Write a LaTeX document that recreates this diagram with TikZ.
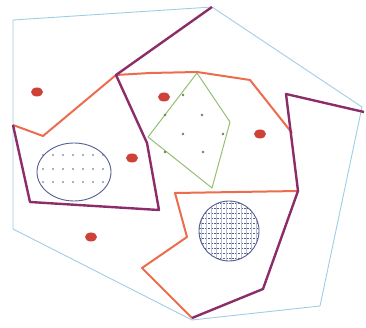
\documentclass[tikz,border=0pt]{standalone}
\usetikzlibrary{calc}
\definecolor{hullblue}{RGB}{160,205,228}
\definecolor{plum}{RGB}{140,45,105}
\definecolor{tangerine}{RGB}{236,108,78}
\definecolor{sage}{RGB}{150,190,115}
\definecolor{blobred}{RGB}{205,65,55}
\definecolor{ink}{RGB}{85,95,145}
\begin{document}
\begin{tikzpicture}[x=1pt, y=-1pt,
  hull/.style={draw=hullblue, line width=0.9pt, line join=round},
  wall/.style={draw=plum, line width=2.4pt, line join=round},
  edge/.style={draw=tangerine, line width=2pt, line join=round},
  zone/.style={draw=sage, line width=1pt, line join=round},
  blob/.style={fill=blobred},
  dot/.style={fill=ink, draw=none},
]
\useasboundingbox (0,0) rectangle (366,328);

% === outer hull ===
\coordinate (tl) at (13,20);
\coordinate (tp) at (212,7);
\coordinate (tr) at (362,107);
\coordinate (br) at (320,306);
\coordinate (bm) at (192,320);
\coordinate (bl) at (13,229);
\draw[hull] (tl) -- (tp) -- (tr) -- (br) -- (bm) -- (bl) -- cycle;

% === shared corners ===
\coordinate (lc) at (13,125);
\coordinate (mc) at (116,75);
\coordinate (rc) at (298,191);
\coordinate (bc) at (192,318);

% === orange borders ===
\draw[edge] (lc) -- (43,136) -- (mc) -- (150,73) -- (197,72) -- (250,80) -- (292,133);
\draw[edge] (rc) -- (175,193) -- (187,237) -- (142,268) -- (bc);

% === purple walls ===
\draw[wall] (lc) -- (30,202) -- (159,210) -- (147,143) -- (mc) -- (tp);
\draw[wall] (364,112) -- (286,94) -- (rc) -- (263,289) -- (bc);

% === green zone ===
\draw[zone] (197,73) -- (230,122) -- (212,188) -- (148,137) -- cycle;
\foreach \x/\y in {183/95, 165/115, 202/115, 183/134, 223/134, 165/152, 203/152}
  \fill[sage!70!black] (\x,\y) circle (1.4);

% === red spots ===
\foreach \x/\y in {37/92, 164/97, 132/158, 260/134, 91/237}
  \fill[blob] (\x,\y) ellipse (6 and 4.5);

% === dotted ellipse ===
\draw[ink, line width=0.9pt] (74,172) ellipse (37 and 29);
\foreach \y in {155,169,182}
  \foreach \x in {43,53,...,103}
    \fill[dot] (\x,\y) circle (0.8);

% === hatched circle ===
\begin{scope}
  \clip (229,231) circle (30);
  \foreach \y in {203,208,...,261}
    \draw[ink, line width=0.7pt, dash pattern=on 2pt off 1pt] (199,\y) -- (260,\y);
  \foreach \x in {201,206,...,259}
    \draw[ink!40, line width=0.3pt] (\x,201) -- (\x,262);
\end{scope}
\draw[ink, line width=0.9pt] (229,231) circle (30);

\end{tikzpicture}
\end{document}
